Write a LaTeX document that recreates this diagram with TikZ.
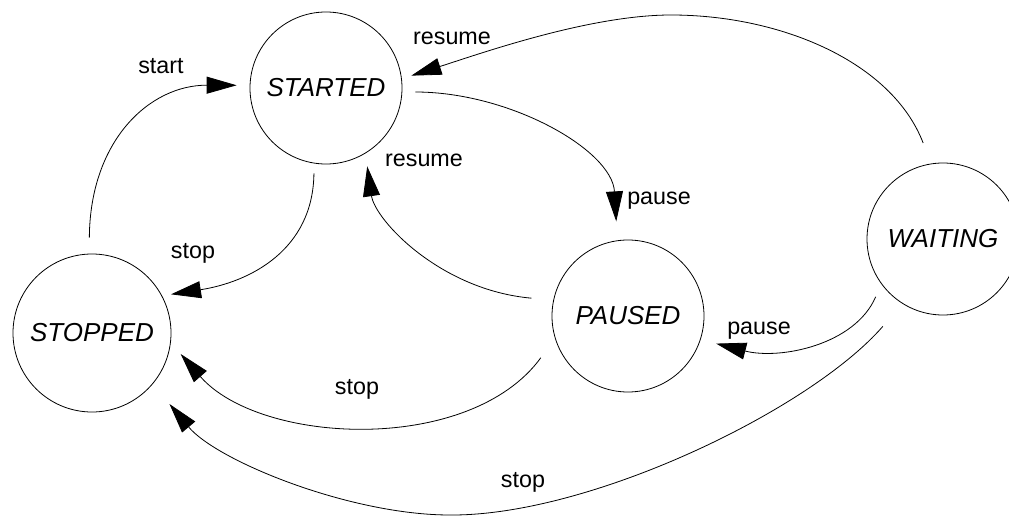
\documentclass[tikz,border=0pt]{standalone}
\usepackage{fontspec}
\setmainfont{Liberation Sans}
\usetikzlibrary{arrows.meta}
\begin{document}
\begin{tikzpicture}[x=1pt,y=-1pt,
  state/.style={draw,circle,line width=0.8pt,inner sep=0pt,minimum size=152pt,
    font=\fontsize{26}{30}\selectfont\itshape},
  trans/.style={line width=0.8pt,-{Triangle[length=30pt,width=17pt]}},
  lbl/.style={anchor=base,inner sep=0pt,font=\fontsize{23.3}{28}\selectfont}]
\useasboundingbox (0,0) rectangle (1009,516);

% states
\node[state] (started) at (326,88)  {STARTED};
\node[state,minimum size=158pt] (stopped) at (92,333) {STOPPED};
\node[state] (paused)  at (628,316) {PAUSED};
\node[state] (waiting) at (943,239) {WAITING};

% transitions
\draw[trans,shorten <=16pt,shorten >=13pt]
  (stopped.92) .. controls (90,140) and (150,85) .. (started.178);
\draw[trans,shorten <=22pt,shorten >=10pt]
  (waiting.99) .. controls (892,62) and (781,15) .. (671,15)
  .. controls (590,15) and (482,53) .. (started.7);
\draw[trans,shorten <=13pt,shorten >=19pt]
  (started.-3) .. controls (510,92) and (612,150) .. (paused.98);
\draw[trans,shorten <=22pt,shorten >=13pt]
  (paused.168) .. controls (440,290) and (375,220) .. (started.-59);
\draw[trans,shorten <=10pt,shorten >=9pt]
  (started.261) .. controls (313,250) and (250,282) .. (stopped.28);
\draw[trans,shorten <=24pt,shorten >=15pt]
  (paused.197) .. controls (470,455) and (260,445) .. (stopped.-7);
\draw[trans,shorten <=14pt,shorten >=16pt]
  (waiting.216) .. controls (855,345) and (780,360) .. (paused.-18);
\draw[trans,shorten <=30pt,shorten >=26pt]
  (waiting.238) .. controls (810,410) and (590,516) .. (450,515)
  .. controls (350,515) and (217,461) .. (stopped.-40);

% transition labels
\node[lbl] (lstart)   at (161,74)  {start};
\node[lbl] (lresume1) at (452,45)  {resume};
\node[lbl] (lresume2) at (424,166) {resume};
\node[lbl] (lstop1)   at (193,258) {stop};
\node[lbl] (lpause1)  at (659,204) {pause};
\node[lbl] (lpause2)  at (759,334) {pause};
\node[lbl] (lstop2)   at (357,394) {stop};
\node[lbl] (lstop3)   at (523,487) {stop};
\end{tikzpicture}
\end{document}
